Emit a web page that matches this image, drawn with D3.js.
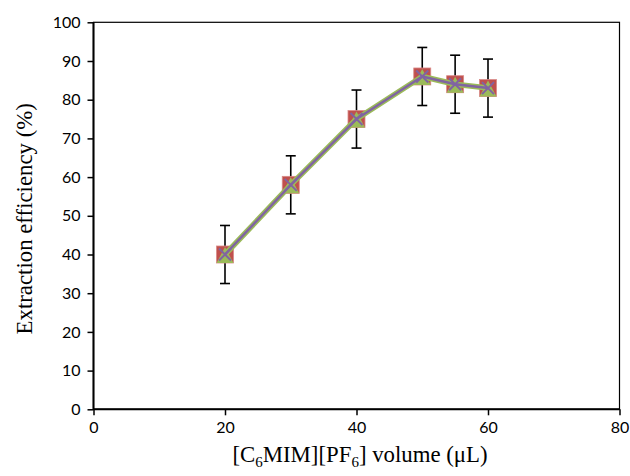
<!DOCTYPE html>
<html>
<head>
<meta charset="utf-8">
<script src="https://cdn.jsdelivr.net/npm/d3@7"></script>
<style>
  html, body { margin: 0; padding: 0; background: #fff; }
  svg { display: block; }
</style>
</head>
<body>
<div id="chart"></div>
<script>
// Data
const volumes = [20, 30, 40, 50, 55, 60];
const efficiency = [40, 58, 75, 86, 84, 83];
const errors = [7.5, 7.5, 7.5, 7.5, 7.5, 7.5];
const xTicks = [0, 20, 40, 60, 80];
const yTicks = [0, 10, 20, 30, 40, 50, 60, 70, 80, 90, 100];

const W = 630, H = 476;
const svg = d3.select("#chart").append("svg").attr("width", W).attr("height", H);

const x = d3.scaleLinear().domain([0, 80]).range([93.5, 619.5]);
const y = d3.scaleLinear().domain([0, 100]).range([409.3, 22.3]);

const tickFont = "Lato, 'Open Sans', sans-serif";

// plot border (top/right thin)
svg.append("rect")
  .attr("x", x(0)).attr("y", y(100))
  .attr("width", x(80) - x(0)).attr("height", y(0) - y(100))
  .attr("fill", "none").attr("stroke", "#000").attr("stroke-width", 1.2);

// y axis
const yAxis = svg.append("g")
  .attr("transform", `translate(${x(0)},0)`)
  .call(d3.axisLeft(y).tickValues(yTicks).tickSize(6).tickPadding(7).tickFormat(d3.format("d")));
yAxis.select(".domain").attr("stroke", "#000").attr("stroke-width", 2).attr("d", `M0,${y(0)}V${y(100)}`);
yAxis.selectAll(".tick line").attr("stroke", "#000").attr("stroke-width", 1.5);
yAxis.selectAll(".tick text").attr("font-family", tickFont).attr("font-size", 16).attr("fill", "#000");

// x axis
const xAxis = svg.append("g")
  .attr("transform", `translate(0,${y(0)})`)
  .call(d3.axisBottom(x).tickValues(xTicks).tickSize(6).tickPadding(6).tickFormat(d3.format("d")));
xAxis.select(".domain").attr("stroke", "#000").attr("stroke-width", 2).attr("d", `M${x(0)},0H${x(80)}`);
xAxis.selectAll(".tick line").attr("stroke", "#000").attr("stroke-width", 1.5);
xAxis.selectAll(".tick text").attr("font-family", tickFont).attr("font-size", 16).attr("fill", "#000");

const data = volumes.map((v, i) => ({ x: v, y: efficiency[i], e: errors[i] }));

// error bars
const eb = svg.append("g").attr("stroke", "#000").attr("stroke-width", 1.6);
data.forEach(d => {
  eb.append("line").attr("x1", x(d.x)).attr("x2", x(d.x)).attr("y1", y(d.y - d.e)).attr("y2", y(d.y + d.e));
  eb.append("line").attr("x1", x(d.x) - 5).attr("x2", x(d.x) + 5).attr("y1", y(d.y + d.e)).attr("y2", y(d.y + d.e));
  eb.append("line").attr("x1", x(d.x) - 5).attr("x2", x(d.x) + 5).attr("y1", y(d.y - d.e)).attr("y2", y(d.y - d.e));
});

const line = d3.line().x(d => x(d.x)).y(d => y(d.y));

// red squares
svg.append("g").selectAll("rect").data(data).join("rect")
  .attr("x", d => x(d.x) - 8.5).attr("y", d => y(d.y) - 8.5)
  .attr("width", 17).attr("height", 17)
  .attr("fill", "#C0504D").attr("stroke", "#d98a88").attr("stroke-width", 0.8);

// green line + triangles
svg.append("path").datum(data).attr("d", line)
  .attr("fill", "none").attr("stroke", "#9BBB59").attr("stroke-width", 5.5).attr("stroke-linejoin", "round");
svg.append("g").selectAll("path").data(data).join("path")
  .attr("d", d => {
    const cx = x(d.x), cy = y(d.y);
    return `M${cx},${cy - 7.5}L${cx + 8.5},${cy + 8.5}L${cx - 8.5},${cy + 8.5}Z`;
  })
  .attr("fill", "#9BBB59");

// purple line + X markers
svg.append("path").datum(data).attr("d", line)
  .attr("fill", "none").attr("stroke", "#8064A2").attr("stroke-width", 2.5).attr("stroke-linejoin", "round");
svg.append("g").selectAll("path").data(data).join("path")
  .attr("d", d => {
    const cx = x(d.x), cy = y(d.y), r = 6;
    return `M${cx - r},${cy - r}L${cx + r},${cy + r}M${cx + r},${cy - r}L${cx - r},${cy + r}`;
  })
  .attr("stroke", "#8064A2").attr("stroke-width", 2).attr("fill", "none");

// axis titles
const serif = "'Liberation Serif', 'Times New Roman', serif";
svg.append("text")
  .attr("transform", `translate(32,${(y(0) + y(100)) / 2 + 3}) rotate(-90)`)
  .attr("text-anchor", "middle").attr("font-family", serif).attr("font-size", 22.8).attr("fill", "#000")
  .text("Extraction efficiency (%)");

const xt = svg.append("text")
  .attr("x", 360).attr("y", 462)
  .attr("text-anchor", "middle").attr("font-family", serif).attr("font-size", 22.8).attr("fill", "#000");
xt.append("tspan").text("[C");
xt.append("tspan").attr("font-size", 15).attr("dy", 5).text("6");
xt.append("tspan").attr("dy", -5).text("MIM][PF");
xt.append("tspan").attr("font-size", 15).attr("dy", 5).text("6");
xt.append("tspan").attr("dy", -5).text("] volume (μL)");
</script>
</body>
</html>
